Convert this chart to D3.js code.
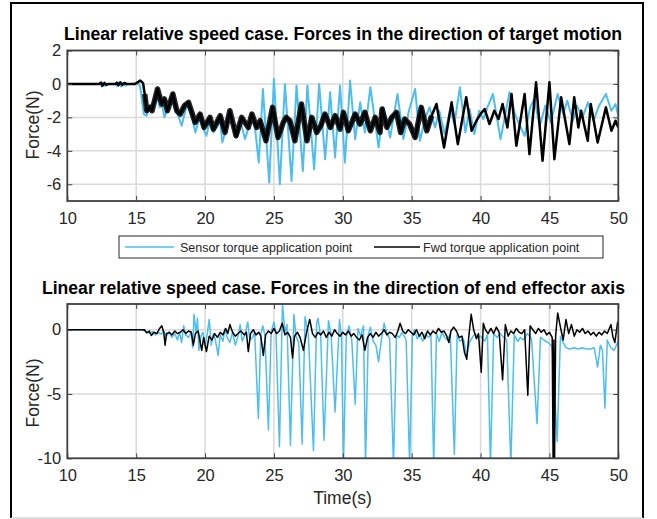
<html>
<head>
<meta charset="utf-8">
<title>Linear relative speed case</title>
<style>
    body { margin: 0; background: #fff; }
    text { font-family: "Liberation Sans", Arial, Helvetica, sans-serif; fill: #262626; }
    .tick text { font-size: 16.5px; }
    .grid line { stroke: #dadada; stroke-width: 1.5px; }
</style>
</head>
<body>
<script src="https://cdn.jsdelivr.net/npm/d3@7"></script>
<script>
var width = 657, height = 519;

// time ticks shared by both plots
var timeTicks = [10, 15, 20, 25, 30, 35, 40, 45, 50];
var topTicks = [-6, -4, -2, 0, 2];
var bottomTicks = [-10, -5, 0];

// [time (s), force (N)]
var topSensor = [[10,0],[12.4,0],[12.5,-0.15],[12.6,0.05],[12.75,-0.12],[12.9,0],[13.5,0],[13.6,-0.12],[13.75,0.08],[13.9,-0.15],[14.05,0.05],[14.2,-0.1],[14.35,0],
    [15.2,0],[15.3,-0.2],[15.55,-1.8],[15.75,-1.9],[16,-1.3],[16.3,-1.1],[16.5,-0.6],[16.7,-1.4],[16.9,-1.3],[17.05,-2],[17.3,-1.4],[17.6,-0.9],[17.85,-1.6],
    [18.05,-1.9],[18.3,-2.5],[18.6,-1.5],[18.8,-1.3],[19.05,-2],[19.3,-2.9],[19.6,-2],[19.9,-2.7],[20.1,-3.1],[20.35,-2.2],[20.6,-2.9],[20.85,-2.6],[21.1,-2.2],
    [21.25,-3.5],[21.5,-2.8],[21.8,-1.8],[22,-2.5],[22.3,-3.2],[22.6,-2.3],[22.9,-3.3],[23.2,-2.5],[23.45,-1.9],[23.65,-2.8],[23.9,-4.7],[24.2,-0.3],[24.66,-5.9],
    [25,0.3],[25.43,-6],[25.8,0],[26.28,-5.8],[26.64,-0.1],[27.1,-5.2],[27.43,-0.1],[27.92,-5.1],[28.28,0],[28.72,-4.5],[29.08,-0.5],[29.44,-4.4],[29.8,-0.1],
    [30.15,-4.7],[30.53,0.2],[30.9,-3.3],[31.26,-1.1],[31.6,-2.9],[32,-0.2],[32.6,-3.8],[32.95,-1.4],[33.44,-3.2],[33.97,-0.6],[34.4,-3.3],[34.8,-1.6],[35.25,-0.3],
    [35.6,-3.4],[36,-2],[36.3,-1.4],[36.7,-2.6],[37,-1.6],[37.4,-3],[37.8,-1.5],[38.1,-2.4],[38.5,-0.2],[38.9,-2.9],[39.2,-1.5],[39.55,-3],[39.9,-1.6],[40.2,-2.1],
    [40.5,-1.4],[40.9,-0.6],[41.45,-3.3],[41.8,-1.8],[42.1,-0.5],[42.5,-1.8],[42.8,-2.4],[43.2,-3.1],[43.6,-1.4],[43.9,-0.9],[44.3,-2.5],[44.7,-1.3],[45.1,-2.3],
    [45.6,-0.6],[46,-1.8],[46.3,-1],[46.7,-2.2],[47,-1.3],[47.4,-2],[47.8,-1.1],[48.2,-2.2],[48.6,-1.3],[49.1,-0.6],[49.5,-1.6],[49.8,-1.2],[50,-1.9]];

var topFwd = [[10,0],[12.3,0],[12.45,0.08],[12.55,-0.1],[12.7,0.06],[12.85,-0.05],[13,0],[13.5,0],[13.6,0.08],[13.7,-0.08],[13.85,0.1],[14,-0.06],[14.15,0.06],
    [14.3,0],[14.9,0],[15.1,0.1],[15.3,0.2],[15.5,0.05],[15.62,-0.6],[15.77,-1.6],[16,-1.4],[16.15,-1.6],[16.55,-0.3],[16.86,-1.2],[17.05,-0.9],[17.27,-1.6],
    [17.66,-0.6],[17.95,-1.6],[18.2,-1.8],[18.5,-1.3],[18.8,-1.1],[19.28,-2.3],[19.64,-1.8],[19.93,-2.6],[20.36,-2],[20.6,-2.7],[21.1,-1.9],[21.45,-2.9],[21.8,-1.6],
    [22.25,-3.1],[22.66,-2],[23.14,-2.6],[23.4,-1.8],[23.75,-2.6],[24,-2.2],[24.42,-3.4],[24.9,-1.4],[25.3,-3.2],[25.68,-2.3],[25.9,-2],[26.16,-2.2],[26.52,-3.4],
    [27,-1.2],[27.4,-3.4],[27.75,-2],[28.1,-2.9],[28.4,-2.5],[28.7,-1.8],[29.1,-2.6],[29.45,-1.9],[29.8,-2.7],[30.05,-1.7],[30.4,-2.8],[30.9,-1.8],[31.25,-2.4],
    [31.6,-1.7],[32,-2.8],[32.35,-2],[32.7,-2.9],[32.85,-1.5],[33.2,-2.6],[33.55,-2],[33.9,-1.7],[34.2,-2.9],[34.5,-2.1],[34.85,-2.4],[35.25,-3.2],[35.7,-1.4],
    [36.1,-2.8],[36.45,-1.9],[36.8,-1.2],[37.35,-3.8],[37.9,-1.1],[38.35,-3.6],[38.96,-0.8],[39.35,-2.8],[39.7,-2.2],[40,-1.8],[40.3,-1.5],[40.65,-2.4],[41,-1.6],
    [41.3,-2.1],[41.6,-1.2],[41.95,-2.6],[42.25,-0.6],[42.6,-3.7],[43.2,-0.6],[43.55,-4.2],[44.03,0.1],[44.5,-4.6],[45,0.1],[45.36,-4.5],[45.85,-0.8],[46.45,-3.6],
    [46.8,-0.8],[47.1,-2.6],[47.3,-1.6],[47.78,-3.4],[48,-1.2],[48.5,-3.5],[49.1,-1.4],[49.5,-2.8],[49.8,-2.2],[50,-2.6]];

var bottomSensor = [[10,0],[15.4,0],[15.6,-0.1],[15.8,-0.2],[16,-0.3],[16.2,-0.15],[16.4,-0.4],[16.6,-0.2],[16.8,-0.35],[17,-0.1],[17.2,-0.5],[17.4,-0.2],
    [17.6,-0.6],[17.8,-0.3],[18,-0.8],[18.15,-0.2],[18.3,-1],[18.45,0.3],[18.6,-0.4],[18.8,-0.6],[19,-0.2],[19.1,-1.4],[19.2,1.2],[19.35,-0.3],[19.45,0.9],
    [19.55,-1.6],[19.7,-0.5],[19.85,-0.2],[20,-1.3],[20.15,-0.4],[20.3,0.8],[20.45,-1.2],[20.6,-0.3],[20.75,-0.8],[20.95,-2],[21.1,-0.4],[21.3,-0.9],[21.45,0.1],
    [21.6,-0.6],[21.8,-1],[22,-0.2],[22.2,-1.2],[22.4,-0.5],[22.55,0.4],[22.7,-0.9],[22.9,-0.4],[23.1,0.6],[23.25,-0.8],[23.45,-0.6],[23.6,-0.2],[23.87,-6.9],
    [24.05,-0.3],[24.2,0.3],[24.35,-0.5],[24.6,-7.8],[24.8,-0.2],[25,0.6],[25.15,-0.3],[25.4,-9.1],[25.62,2],[25.8,-0.2],[25.95,0.4],[26.2,-9],[26.45,1.2],
    [26.6,-0.5],[26.8,-1],[27.05,-8.9],[27.26,1],[27.5,-0.4],[27.87,-9.4],[28.1,0.5],[28.2,0.9],[28.4,-0.6],[28.64,-8.6],[28.96,0.7],[29.15,-0.4],[29.44,-6.4],
    [29.76,0.8],[29.9,-0.5],[30.05,-10.5],[30.25,-0.6],[30.45,0.3],[30.65,-0.8],[30.9,-5.8],[31.1,0.1],[31.3,-0.5],[31.5,0.3],[31.65,-10.5],[31.85,-0.4],[32,0.2],
    [32.2,-0.9],[32.4,-1.2],[32.6,-2.5],[32.8,-0.8],[33,0.5],[33.2,-0.3],[33.4,-0.7],[33.68,-10.5],[33.9,-0.4],[34.1,-0.6],[34.3,-0.2],[34.6,-0.8],[34.85,-10.5],
    [35.05,-0.5],[35.2,0],[35.4,-0.7],[35.6,-0.4],[35.8,-0.9],[36,-0.3],[36.2,-0.6],[36.4,-0.4],[36.6,-10.5],[36.8,-0.3],[37,-0.9],[37.2,-0.2],[37.4,-0.6],
    [37.6,-0.8],[37.8,-0.3],[38.1,-9.7],[38.3,-0.4],[38.5,-0.9],[38.75,-0.7],[39,-2],[39.2,-1],[39.4,-0.6],[39.6,-0.3],[39.8,-0.6],[40,-0.5],[40.3,-0.9],
    [40.5,-0.4],[40.72,-10.5],[40.95,-0.3],[41.2,-0.6],[41.4,-0.3],[41.6,-0.5],[41.9,-0.8],[42.2,-10.5],[42.45,-0.4],[42.7,-0.9],[42.9,-0.6],[43.1,-0.8],
    [43.4,-0.3],[43.7,-0.7],[44.1,-7.3],[44.35,-0.6],[44.6,-0.8],[44.9,-1],[45.2,-1.3],[45.56,-8.7],[45.8,-0.5],[46,-1],[46.2,-1.4],[46.5,-1.5],[46.8,-1.4],
    [47.1,-1.5],[47.4,-1.4],[47.7,-1.5],[48,-1.5],[48.25,-1.4],[48.5,-2.9],[48.7,-1.2],[48.85,-1.6],[49.03,-6.1],[49.2,-0.8],[49.45,-1.4],[49.7,-1.6],
    [49.95,-1],[50,-1.2]];

var bottomFwd = [[10,0],[15.6,0],[15.77,-0.25],[15.95,-0.1],[16.1,-0.45],[16.3,-0.2],[16.5,-0.3],[16.7,0.1],[16.86,0.3],[17,-0.2],[17.1,-1.2],[17.2,-0.3],
    [17.4,-0.2],[17.6,-0.4],[17.8,-0.1],[18,-0.3],[18.2,-0.2],[18.4,0],[18.6,-0.3],[18.8,-0.1],[19,-0.2],[19.15,-1.2],[19.3,-0.3],[19.5,-0.1],[19.76,-1.6],
    [19.9,-0.6],[20.1,-1.7],[20.3,-0.5],[20.5,-0.8],[20.7,-0.3],[20.9,-0.6],[21.1,-0.2],[21.3,-0.4],[21.5,0.1],[21.65,-0.3],[21.8,0.4],[22,-0.2],[22.2,-0.5],
    [22.4,-0.3],[22.6,-0.1],[22.85,-0.4],[23,-0.2],[23.14,-1.7],[23.3,-0.3],[23.5,0],[23.7,-0.4],[23.9,-0.2],[24.05,-0.5],[24.23,-2],[24.4,-0.4],[24.6,-0.1],
    [24.8,-0.3],[25,0.1],[25.2,-0.3],[25.4,-0.1],[25.6,0.5],[25.8,-0.4],[26,-0.2],[26.2,-0.6],[26.35,-2.2],[26.5,-0.5],[26.7,-0.2],[26.9,-0.6],[27.14,-1.6],
    [27.35,-0.3],[27.6,0.8],[27.8,-0.3],[28,-0.6],[28.2,-0.2],[28.4,-0.4],[28.6,-0.1],[28.8,-0.6],[29,-0.2],[29.2,-0.5],[29.4,0],[29.6,-0.3],[29.8,-0.5],
    [30,-0.2],[30.2,-0.4],[30.4,-0.1],[30.6,-0.5],[30.8,-0.3],[31,-0.6],[31.2,-0.8],[31.4,-0.4],[31.6,-1.6],[31.8,-0.6],[32,-0.3],[32.2,-0.6],[32.4,-0.2],
    [32.6,-0.5],[32.8,-0.3],[33,0],[33.2,-0.4],[33.4,-0.2],[33.6,-0.3],[33.8,-0.6],[34,-0.1],[34.16,0.5],[34.35,-0.1],[34.55,-0.3],[34.75,0],[34.95,-0.2],
    [35.15,-0.4],[35.35,0],[35.55,-0.5],[35.75,-0.2],[35.95,-0.7],[36.15,-0.1],[36.35,-0.4],[36.55,-0.1],[36.75,-0.3],[36.95,0.1],[37.15,-0.2],[37.35,-0.1],
    [37.55,-0.5],[37.7,-1],[37.85,-0.1],[38.05,0.2],[38.25,-0.1],[38.45,-0.6],[38.65,-0.5],[38.84,-1.8],[39,-2.3],[39.15,-0.5],[39.32,1.2],[39.5,0],[39.7,-0.7],
    [39.85,-0.3],[40.05,-3.3],[40.2,0.5],[40.35,0],[40.55,-0.3],[40.75,0.1],[40.95,-0.3],[41.15,0.2],[41.35,-0.2],[41.6,-3.9],[41.8,0.4],[42,-0.5],[42.2,-0.1],
    [42.4,-0.3],[42.6,0.1],[42.8,-0.2],[43,-0.3],[43.2,0],[43.43,-5.1],[43.6,0.3],[43.8,0],[44,-0.3],[44.2,0.1],[44.4,-0.2],[44.6,0],[44.8,-0.4],[45,-0.2],
    [45.2,-0.6],[45.27,-10.5],[45.32,-0.8],[45.37,-10.5],[45.45,-0.5],[45.6,1.3],[45.8,0.2],[46,-0.8],[46.2,0.8],[46.4,-0.3],[46.6,0.4],[46.8,-0.5],[47,0],
    [47.2,-0.2],[47.4,0.1],[47.6,-0.3],[47.8,-0.1],[48,-0.4],[48.2,-0.2],[48.4,-0.5],[48.6,-0.2],[48.8,-0.4],[49,-0.1],[49.2,-0.3],[49.47,0.4],[49.6,-0.5],
    [49.75,-1],[49.95,0.6],[50,0.3]];

var blue = "#4dbeee";

var svg = d3.select("body").append("svg")
    .attr("width", width)
    .attr("height", height);

svg.append("rect").attr("width", width).attr("height", height).attr("fill", "#fff");

// outer figure frame
svg.append("path")
    .attr("d", "M11,518V3H643V518")
    .attr("fill", "none")
    .attr("stroke", "#000")
    .attr("stroke-width", 2);
svg.append("line")
    .attr("x1", 11).attr("x2", 643).attr("y1", 518).attr("y2", 518)
    .attr("stroke", "#bbb");

function drawAxes(opt) {
    var x = d3.scaleLinear().domain([10, 50]).range([67.3, 618.3]);
    var y = d3.scaleLinear().domain(opt.domain).range([opt.bottom, opt.top]);
    var g = svg.append("g");

    var clipId = "clip" + opt.id;
    svg.append("clipPath").attr("id", clipId)
        .append("rect")
        .attr("x", 67.3).attr("y", opt.top)
        .attr("width", 551).attr("height", opt.bottom - opt.top);

    // grid
    var grid = g.append("g").attr("class", "grid");
    grid.selectAll(".gx").data(timeTicks.slice(1, -1)).join("line")
        .attr("x1", d => x(d)).attr("x2", d => x(d))
        .attr("y1", opt.top).attr("y2", opt.bottom);
    grid.selectAll(".gy").data(opt.ticks).join("line")
        .attr("x1", 67.3).attr("x2", 618.3)
        .attr("y1", d => y(d)).attr("y2", d => y(d));

    var line = d3.line().x(d => x(d[0])).y(d => y(d[1]));
    var plot = g.append("g").attr("clip-path", "url(#" + clipId + ")")
        .attr("fill", "none")
        .attr("stroke-linejoin", "round");

    plot.append("path").datum(opt.sensor)
        .attr("stroke", blue).attr("stroke-width", opt.blueWidth)
        .attr("d", line);
    plot.append("path").datum(opt.fwd)
        .attr("stroke", "#000").attr("stroke-width", opt.blackWidth)
        .attr("d", line);
    if (opt.band) {
        // the fwd signal is a dense noisy band here
        plot.append("path").datum(opt.fwd.filter(d => d[0] >= opt.band[0] && d[0] <= opt.band[1]))
            .attr("stroke", "#000").attr("stroke-width", 5.5).attr("stroke-opacity", 0.85)
            .attr("d", line);
    }

    // axes with inner ticks on all sides, plain hyphen for negatives
    var fmt = d => String(d);
    var axes = [
        [d3.axisBottom(x).tickValues(timeTicks), "translate(0," + opt.bottom + ")", true],
        [d3.axisTop(x).tickValues(timeTicks), "translate(0," + opt.top + ")", false],
        [d3.axisLeft(y).tickValues(opt.ticks), "translate(67.3,0)", true],
        [d3.axisRight(y).tickValues(opt.ticks), "translate(618.3,0)", false]
    ];
    axes.forEach(a => {
        var ax = g.append("g").attr("transform", a[1])
            .call(a[0].tickFormat(fmt).tickSizeInner(-5).tickSizeOuter(0).tickPadding(a === axes[0] ? 11 : 6));
        ax.select(".domain").remove();
        ax.selectAll(".tick line").attr("stroke", "#404040");
        ax.selectAll(".tick text").attr("font-family", null).attr("font-size", null).attr("fill", "#262626");
        if (!a[2]) ax.selectAll(".tick text").remove();
    });

    g.append("rect")
        .attr("x", 67.3).attr("y", opt.top)
        .attr("width", 551).attr("height", opt.bottom - opt.top)
        .attr("fill", "none").attr("stroke", "#404040").attr("stroke-width", 1.8);

    svg.append("text")
        .attr("x", opt.titleX).attr("y", opt.titleY)
        .attr("textLength", opt.titleLen).attr("lengthAdjust", "spacingAndGlyphs")
        .attr("font-size", 18).attr("font-weight", "bold").style("fill", "#000")
        .text(opt.title);

    svg.append("text")
        .attr("transform", "translate(33," + opt.labelY + ") rotate(-90)")
        .attr("text-anchor", "middle").attr("dy", "0.35em")
        .attr("font-size", 17.5)
        .text("Force(N)");
}

drawAxes({
    id: 1, top: 50.5, bottom: 201, domain: [-7, 2], ticks: topTicks,
    sensor: topSensor, fwd: topFwd, blueWidth: 2, blackWidth: 2.5, band: [15.6, 36.5],
    title: "Linear relative speed case. Forces in the direction of target motion",
    titleX: 64, titleY: 39.5, titleLen: 558, labelY: 125
});

drawAxes({
    id: 2, top: 304, bottom: 458.3, domain: [-10, 2], ticks: bottomTicks,
    sensor: bottomSensor, fwd: bottomFwd, blueWidth: 1.5, blackWidth: 1.5, band: null,
    title: "Linear relative speed case. Forces in the direction of end effector axis",
    titleX: 42, titleY: 294, titleLen: 583, labelY: 393
});

svg.append("text")
    .attr("x", 342.5).attr("y", 504)
    .attr("text-anchor", "middle")
    .attr("font-size", 17.5)
    .text("Time(s)");

// legend
var legend = svg.append("g").attr("font-size", 12.5);
legend.append("rect")
    .attr("x", 119).attr("y", 236).attr("width", 484).attr("height", 22)
    .attr("fill", "#fff").attr("stroke", "#262626").attr("stroke-width", 1);
legend.append("line").attr("x1", 125).attr("x2", 174).attr("y1", 247).attr("y2", 247)
    .attr("stroke", blue).attr("stroke-width", 1.5);
legend.append("text").attr("x", 180).attr("y", 251.5).text("Sensor torque application point");
legend.append("line").attr("x1", 374).attr("x2", 420).attr("y1", 247).attr("y2", 247)
    .attr("stroke", "#000").attr("stroke-width", 1.5);
legend.append("text").attr("x", 423).attr("y", 251.5).text("Fwd torque application point");
</script>
</body>
</html>
